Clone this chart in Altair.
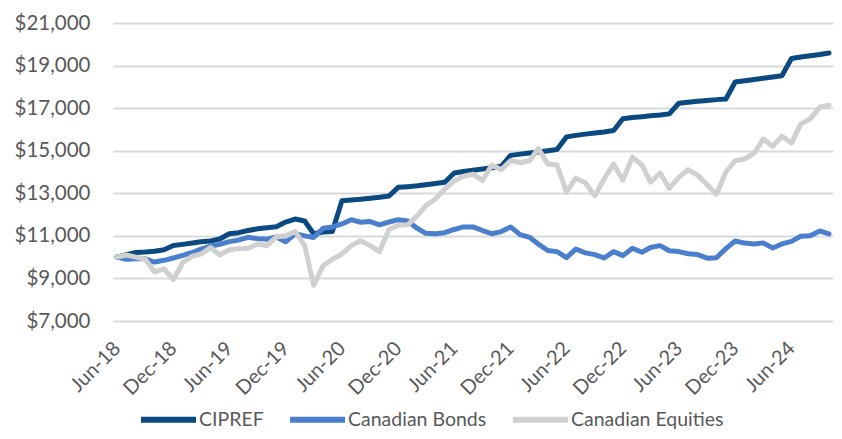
import altair as alt
import pandas as pd

months = pd.date_range("2018-06-01", periods=77, freq="MS")

cipref = [
    10000, 10120, 10220, 10240, 10280, 10350,
    10550, 10600, 10660, 10720, 10760, 10850,
    11100, 11150, 11250, 11330, 11380, 11430,
    11650, 11790, 11700, 11100, 11180, 11200,
    12650, 12680, 12720, 12770, 12810, 12870,
    13280, 13310, 13350, 13400, 13460, 13520,
    13950, 14020, 14080, 14140, 14200, 14270,
    14780, 14840, 14890, 14940, 15000, 15060,
    15650, 15720, 15780, 15830, 15880, 15950,
    16500, 16560, 16600, 16640, 16680, 16730,
    17230, 17280, 17320, 17360, 17400, 17430,
    18230, 18290, 18350, 18400, 18460, 18520,
    19330, 19400, 19460, 19520, 19590,
]
bonds = [
    10000, 9900, 9930, 9920, 9770, 9850,
    9960, 10080, 10220, 10380, 10520, 10600,
    10730, 10800, 10930, 10870, 10840, 10950,
    10720, 11100, 11000, 10920, 11360, 11420,
    11560, 11760, 11640, 11670, 11520, 11650,
    11760, 11700, 11350, 11120, 11100, 11150,
    11300, 11420, 11420, 11250, 11100, 11200,
    11420, 11060, 10930, 10620, 10310, 10260,
    9980, 10380, 10200, 10120, 9960, 10260,
    10070, 10420, 10230, 10450, 10540, 10300,
    10260, 10160, 10120, 9950, 9970, 10400,
    10760, 10660, 10620, 10670, 10430, 10620,
    10740, 10980, 11010, 11230, 11090,
]
equities = [
    10000, 10100, 10000, 9900, 9300, 9450,
    8950, 9750, 10050, 10150, 10450, 10100,
    10350, 10400, 10420, 10620, 10540, 10950,
    11000, 11200, 10540, 8680, 9600, 9900,
    10150, 10540, 10770, 10540, 10260, 11300,
    11500, 11520, 11950, 12420, 12730, 13200,
    13580, 13800, 13900, 13600, 14330, 14110,
    14530, 14450, 14530, 15100, 14380, 14330,
    13050, 13710, 13500, 12880, 13670, 14380,
    13610, 14700, 14330, 13520, 13950, 13230,
    13750, 14110, 13850, 13400, 12960, 14000,
    14530, 14620, 14880, 15550, 15210, 15680,
    15360, 16250, 16500, 17040, 17140,
]

series_names = ["CIPREF", "Canadian Bonds", "Canadian Equities"]
series_colors = ["#0B4A80", "#4A7FCD", "#D0D0D0"]
y_ticks = [7000, 9000, 11000, 13000, 15000, 17000, 19000, 21000]
x_tick_dates = [(2018, 6), (2018, 12), (2019, 6), (2019, 12), (2020, 6), (2020, 12),
                (2021, 6), (2021, 12), (2022, 6), (2022, 12), (2023, 6), (2023, 12),
                (2024, 6)]

rows = []
for name, vals in zip(series_names, [cipref, bonds, equities]):
    for d, v in zip(months, vals):
        rows.append({"date": d.strftime("%Y-%m-%dT00:00:00"), "value": v, "series": name})
df = pd.DataFrame(rows)

FONT = "Lato"
TXT = "#595959"

x_enc = alt.X(
    "date:T",
    scale=alt.Scale(
        domain=[alt.DateTime(year=2018, month=6, date=1), alt.DateTime(year=2024, month=10, date=1)],
        padding=4, nice=False,
    ),
    axis=alt.Axis(
        values=[alt.DateTime(year=y, month=m, date=1) for y, m in x_tick_dates],
        format="%b-%y", labelAngle=-45, labelAlign="right", labelBaseline="middle",
        grid=False, ticks=False, domain=False, labelPadding=24, labelFlush=False,
        labelOverlap=False, labelFontSize=20, labelFont=FONT, labelColor=TXT, title=None,
    ),
)
y_enc = alt.Y(
    "value:Q",
    scale=alt.Scale(domain=[7000, 21000], nice=False, zero=False),
    axis=alt.Axis(
        values=y_ticks, format="$,.0f", title=None, ticks=False, domain=False,
        labelPadding=23, labelFontSize=20.5, labelFont=FONT, labelColor=TXT,
        gridColor="#d9d9d9", gridWidth=2,
    ),
)
color_enc = alt.Color(
    "series:N",
    scale=alt.Scale(domain=series_names, range=series_colors),
    legend=alt.Legend(
        title=None, orient="none", legendX=25, legendY=366, direction="horizontal",
        symbolType="stroke", symbolSize=3025, symbolStrokeWidth=6, labelFontSize=19.5,
        labelFont=FONT, labelColor=TXT, labelOffset=0, columnPadding=14, padding=0,
    ),
)

base = alt.Chart(df).mark_line(strokeWidth=5, strokeCap="round", strokeJoin="round").encode(
    x=x_enc, y=y_enc, color=color_enc
)

chart = alt.layer(
    *[base.transform_filter(alt.datum.series == n) for n in series_names]
).properties(
    width=720, height=298,
    autosize=alt.AutoSizeParams(type="none"),
    padding={"left": 105, "top": 15, "right": 1, "bottom": 110},
    background="white",
).configure_view(stroke=None)

chart.save("out.html", embed_options={"renderer": "svg", "actions": False})
